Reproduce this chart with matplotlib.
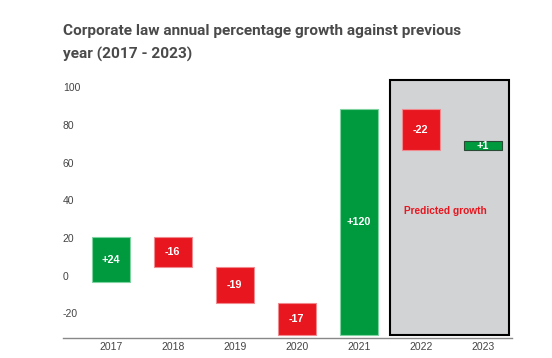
import matplotlib.pyplot as plt
import numpy as np

plt.rcParams["axes.unicode_minus"] = False

# data
years = ["2017", "2018", "2019", "2020", "2021", "2022", "2023"]
changes = [24, -16, -19, -17, 120, -22, 1]
start_value = -3.4
predicted_years = ["2022", "2023"]

green = "#009a3e"
red = "#e8161f"
min_height = 5  # smallest drawn height so tiny changes stay visible

fig = plt.figure(figsize=(5.52, 3.58), dpi=100)
ax = fig.add_axes([0.114, 0.056, 0.8135, 0.726])

x = np.arange(len(years))
level = start_value
for i, d in enumerate(changes):
    bottom = level if d >= 0 else level + d
    h = abs(d)
    small = h < min_height
    if small:
        h = min_height
    col = green if d >= 0 else red
    edge = "#7fd3a0" if d >= 0 else "#f08a8f"
    if small:
        edge = "#2a4a35"
    ax.bar(x[i], h, bottom=bottom, width=0.61, color=col, edgecolor=edge,
           linewidth=0.8, zorder=3)
    ax.text(x[i], bottom + h / 2, ("+%d" % d) if d > 0 else "%d" % d,
            ha="center", va="center", color="white", fontsize=7.8,
            fontweight="bold", family="Liberation Sans", zorder=4)
    level += d

# shaded region for predicted years
i0 = years.index(predicted_years[0])
i1 = years.index(predicted_years[-1])
ax.add_patch(plt.Rectangle((i0 - 0.49, -31.6), (i1 - i0) + 0.92, 135.6,
                           facecolor="#d1d3d5", edgecolor="black",
                           linewidth=1.5, zorder=1))
ax.text((i0 + i1) / 2 - 0.11, 34.6, "Predicted growth", color=red,
        fontsize=7.3, fontweight="bold", ha="center", va="center",
        family="Liberation Sans", zorder=4)

ax.set_xlim(-0.77, 6.47)
ax.set_ylim(-33, 105)
ax.set_xticks(x)
ax.set_xticklabels(years)
ax.set_yticks([-20, 0, 20, 40, 60, 80, 100])
for s in ["top", "right", "left"]:
    ax.spines[s].set_visible(False)
ax.spines["bottom"].set_color("#888888")
ax.spines["bottom"].set_linewidth(1.0)
ax.tick_params(axis="x", length=0, pad=3, labelsize=7.5, labelcolor="#444444")
ax.tick_params(axis="y", length=0, pad=0, labelsize=7.5, labelcolor="#444444")
for lab in ax.get_yticklabels() + ax.get_xticklabels():
    lab.set_family("Liberation Sans")
for lab in ax.get_yticklabels():
    lab.set_horizontalalignment("left")

fig.text(63 / 552, 1 - 24 / 358,
         "Corporate law annual percentage growth against previous\nyear (2017 - 2023)",
         ha="left", va="top", fontsize=11.1, fontweight="bold", color="#4a4a4a",
         family="Roboto", linespacing=1.75)

fig.savefig("out.png", dpi=100)
